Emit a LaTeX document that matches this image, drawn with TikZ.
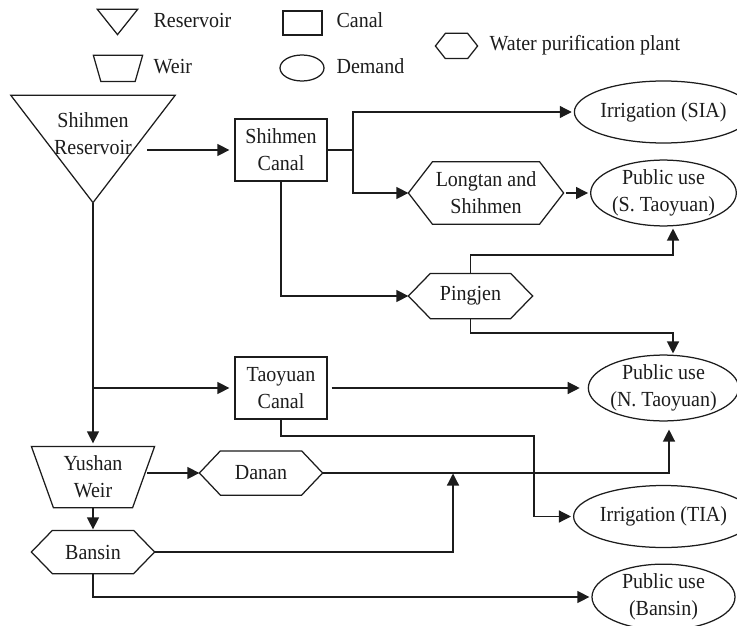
\documentclass[tikz,border=0pt]{standalone}
\usepackage{fontspec}
\setmainfont{Liberation Serif}[FakeStretch=0.93]
\usetikzlibrary{arrows.meta,shapes.geometric}
\definecolor{ink}{HTML}{1C1C1C}
\newcommand\hexoutline[2]{\draw[outline] (#1.west) -- ([xshift=#2]#1.north west) -- ([xshift=-#2]#1.north east) -- (#1.east) -- ([xshift=-#2]#1.south east) -- ([xshift=#2]#1.south west) -- cycle;}
\newcommand\trioutline[1]{\draw[outline] (#1.north west) -- (#1.north east) -- (#1.south) -- cycle;}
\newcommand\weiroutline[2]{\draw[outline] (#1.north west) -- (#1.north east) -- ([xshift=-#2]#1.south east) -- ([xshift=#2]#1.south west) -- cycle;}
\tikzset{
  txt/.style={inner sep=0pt, align=center, font=\fontsize{21.5bp}{27bp}\selectfont},
  canalbox/.style={txt, draw, rectangle, minimum width=92bp, minimum height=62bp},
  demand/.style={txt, draw, ellipse, minimum width=143bp, minimum height=62bp},
  plainbox/.style={txt, rectangle},
  outline/.style={line join=miter},
  arr/.style={-{Triangle[length=12bp,width=12bp]}},
  legtxt/.style={txt, anchor=base west}
}
\begin{document}
\begin{tikzpicture}[x=1bp, y=-1bp, line width=1.25bp, color=ink]
\useasboundingbox (0,0) rectangle (737,626);

% legend
\node[plainbox, minimum width=39bp, minimum height=24bp] (lgres) at (117.5,22) {};
\trioutline{lgres}
\node[legtxt] (lgrest) at (153,28) {Reservoir};
\node[plainbox, minimum width=48bp, minimum height=25bp] (lgweir) at (118,68.5) {};
\weiroutline{lgweir}{7.5bp}
\node[legtxt] (lgweirt) at (153,74) {Weir};
\node[draw, rectangle, inner sep=0pt, minimum width=39bp, minimum height=24bp] (lgcanal) at (302.5,23) {};
\node[legtxt] (lgcanalt) at (336,28) {Canal};
\node[draw, ellipse, inner sep=0pt, minimum width=44bp, minimum height=26bp] (lgdem) at (302,68) {};
\node[legtxt] (lgdemt) at (336,74) {Demand};
\node[plainbox, minimum width=41bp, minimum height=24bp] (lghex) at (456.5,46) {};
\hexoutline{lghex}{10bp}
\node[legtxt] (lghext) at (489,51) {Water purification plant};

% main nodes
\node[plainbox, minimum width=163bp, minimum height=106bp] (res) at (93,149) {};
\trioutline{res}
\node[txt] (reslabel) at (93,133.2) {Shihmen\\Reservoir};
\node[canalbox] (shc) at (281,150) {Shihmen\\Canal};
\node[demand] (sia) at (663.5,112) {Irrigation (SIA)};
\node[plainbox, minimum width=154bp, minimum height=61bp] (lts) at (486,193) {Longtan and\\Shihmen};
\hexoutline{lts}{24bp}
\node[demand] (sty) at (663.5,193) {Public use\\(S. Taoyuan)};
\node[plainbox, minimum width=123bp, minimum height=44bp] (pin) at (470.5,296) {Pingjen};
\hexoutline{pin}{22bp}
\node[canalbox] (tyc) at (281,388) {Taoyuan\\Canal};
\node[demand] (nty) at (663.5,388) {Public use\\(N. Taoyuan)};
\node[plainbox, minimum width=122bp, minimum height=60bp] (weir) at (93,477) {Yushan\\Weir};
\weiroutline{weir}{22bp}
\node[plainbox, minimum width=122bp, minimum height=43bp] (dan) at (261,473) {Danan};
\hexoutline{dan}{21bp}
\node[demand] (tia) at (663.5,516.5) {Irrigation (TIA)};
\node[plainbox, minimum width=122bp, minimum height=42bp] (ban) at (93,552) {Bansin};
\hexoutline{ban}{21bp}
\node[demand] (pbs) at (663.5,597) {Public use\\(Bansin)};

% junction coordinates
\coordinate (resout) at (147,150);
\coordinate (j1) at (353,150);
\coordinate (c1) at (673,255);
\coordinate (c2) at (673,333);
\coordinate (c3) at (93,388);
\coordinate (c4) at (534,436);
\coordinate (weirout) at (147,473);
\coordinate (c5) at (669,473);
\coordinate (c6) at (453,473);

% connectors
\draw[arr, shorten >=5bp] (resout) -- (shc.west);
\draw[arr, shorten >=2bp] (shc.east) -- (j1) |- (sia.west);
\draw[arr] (j1) |- (lts.west);
\draw[arr] (shc.south) |- (pin.west);
\draw[arr, shorten <=2bp, shorten >=2bp] (lts.east) -- (sty.west);
\draw[arr, shorten >=2bp] (pin.north) |- (c1) -- (c1 |- sty.south);
\draw[arr, shorten >=1bp] (pin.south) |- (c2) -- (c2 |- nty.north);
\draw[arr, shorten >=3bp] (res.south) -- (weir.north);
\draw[arr, shorten >=5bp] (c3) -- (tyc.west);
\draw[arr, shorten <=4bp, shorten >=8bp] (tyc.east) -- (nty.west);
\draw[arr, shorten >=2bp] (tyc.south) |- (c4) |- (tia.west);
\draw[arr] (weirout) -- (dan.west);
\draw[arr, shorten >=8bp] (dan.east) -- (c5) -- (c5 |- nty.south);
\draw[arr, shorten >=1bp] (weir.south) -- (ban.north);
\draw[arr, shorten >=0.5bp] (ban.east) -| (c6);
\draw[arr, shorten >=2bp] (ban.south) |- (pbs.west);
\end{tikzpicture}
\end{document}
